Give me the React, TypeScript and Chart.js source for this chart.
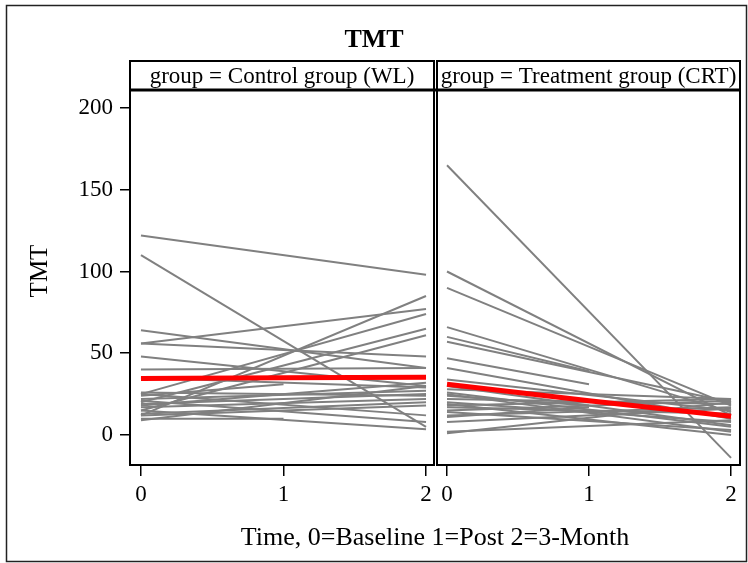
import React, { useEffect, useRef } from 'react';
import { Chart, registerables } from 'chart.js';

Chart.register(...registerables);

// ---------- data ----------
const timePoints = [0, 1, 2];
const chartTitle = 'TMT';
const yTitle = 'TMT';
const xTitle = 'Time, 0=Baseline 1=Post 2=3-Month';
const panelLabels = ['group = Control group (WL)', 'group = Treatment group (CRT)'];

const controlMean = [34.5, 35, 35.3];
const treatmentMean = [31, 21, 11.5];

// each row: TMT at time 0, 1, 2 (null = not observed)
const controlSubjects: (number | null)[][] = [
  [122, null, 98],
  [110, null, 5],
  [64, null, 41],
  [56, null, 77],
  [56, null, 48],
  [48, null, 30],
  [40, null, 41],
  [25, null, 74],
  [12, null, 85],
  [20, null, 65],
  [15, null, 61],
  [24, 31, null],
  [10, 10, null],
  [22, null, 27],
  [19, null, 25],
  [17, null, 22],
  [25, null, 12],
  [21, null, 8],
  [13, null, 20],
  [9, null, 30],
  [15, null, 3.5],
  [18, null, 32],
  [26, null, 24],
  [12, null, 18],
  [35, null, 29],
];

const treatmentSubjects: (number | null)[][] = [
  [165, null, -14],
  [100, null, 12],
  [90, null, 18],
  [66, null, 14],
  [60, 39, null],
  [57, null, 20],
  [47, 31, null],
  [41, null, 10],
  [34, null, 15],
  [28, null, 22],
  [26, null, 5],
  [24, 18, null],
  [22, null, 19],
  [20, null, 8],
  [18, null, 22],
  [17, null, 13],
  [15, null, 21],
  [14, null, 3],
  [12, null, 17],
  [11, 17, null],
  [8, null, 16],
  [2, null, 9],
  [1, null, 20],
  [25, null, 2],
  [19, null, 0],
  [30, null, 6],
];

const FONT = '"Liberation Serif", "Times New Roman", serif';

function toPoints(vals: (number | null)[]) {
  return timePoints.map((t, i) => ({ x: t, y: vals[i] }));
}

function makeDatasets() {
  const ds: any[] = [];
  ds.push({ data: toPoints(controlMean), xAxisID: 'x1', yAxisID: 'y', borderColor: 'rgb(255,0,0)', borderWidth: 5, order: 0 });
  ds.push({ data: toPoints(treatmentMean), xAxisID: 'x2', yAxisID: 'y', borderColor: 'rgb(255,0,0)', borderWidth: 5, order: 0 });
  controlSubjects.forEach((s) =>
    ds.push({ data: toPoints(s), xAxisID: 'x1', yAxisID: 'y', borderColor: 'rgb(128,128,128)', borderWidth: 2, order: 1 })
  );
  treatmentSubjects.forEach((s) =>
    ds.push({ data: toPoints(s), xAxisID: 'x2', yAxisID: 'y', borderColor: 'rgb(128,128,128)', borderWidth: 2, order: 1 })
  );
  return ds;
}

const decorPlugin = {
  id: 'decor',
  afterDraw(chart: any) {
    const ctx = chart.ctx as CanvasRenderingContext2D;
    const ca = chart.chartArea;
    const x1 = chart.scales.x1;
    const x2 = chart.scales.x2;
    ctx.save();
    // outer frame
    ctx.strokeStyle = '#222';
    ctx.lineWidth = 1.5;
    ctx.strokeRect(6.5, 5.5, 740, 556);

    // title
    ctx.fillStyle = '#000';
    ctx.textAlign = 'center';
    ctx.textBaseline = 'middle';
    ctx.font = `bold 26px ${FONT}`;
    ctx.fillText(chartTitle, 374, 40);

    // panels + strips
    const panels = [
      { l: x1.left, r: x1.right - 1 },
      { l: x2.left + 2, r: x2.right },
    ];
    const stripTop = 61;
    ctx.strokeStyle = '#000';
    ctx.lineWidth = 2;
    panels.forEach((p, i) => {
      ctx.strokeRect(p.l, stripTop, p.r - p.l, ca.top - stripTop);
      ctx.strokeRect(p.l, ca.top, p.r - p.l, ca.bottom - ca.top);
      ctx.font = `23px ${FONT}`;
      ctx.fillText(panelLabels[i], (p.l + p.r) / 2, (stripTop + ca.top) / 2 + 1);
    });
    // thicker strip bottom
    ctx.lineWidth = 3;
    ctx.beginPath();
    ctx.moveTo(panels[0].l, ca.top);
    ctx.lineTo(panels[1].r, ca.top);
    ctx.stroke();

    // x title
    ctx.font = `26px ${FONT}`;
    ctx.fillText(xTitle, (x1.left + x2.right) / 2, 538);

    // y title
    ctx.font = `25px ${FONT}`;
    ctx.translate(40, 271);
    ctx.rotate(-Math.PI / 2);
    ctx.fillText(yTitle, 0, 0);
    ctx.restore();
  },
};

function xScale(min: number) {
  return {
    type: 'linear',
    position: 'bottom',
    stack: 'panels',
    stackWeight: 1,
    min,
    max: 2.063,
    border: { display: false },
    grid: { drawOnChartArea: false, drawTicks: true, tickLength: 11, color: '#000', lineWidth: 1.5 },
    ticks: {
      stepSize: 1,
      includeBounds: false,
      autoSkip: false,
      maxRotation: 0,
      color: '#000',
      padding: 5,
      font: { family: FONT, size: 23 },
    },
    afterFit: (s: any) => {
      s.height = 98;
    },
  };
}

export default function App() {
  const ref = useRef<HTMLCanvasElement | null>(null);
  useEffect(() => {
    if (!ref.current) return;
    const chart = new Chart(ref.current, {
      type: 'line',
      data: { datasets: makeDatasets() },
      options: {
        animation: false,
        responsive: false,
        devicePixelRatio: 1,
        spanGaps: true,
        elements: { point: { radius: 0 }, line: { tension: 0 } },
        layout: { padding: { top: 90, right: 8, bottom: 0, left: 0 } },
        plugins: { legend: { display: false }, tooltip: { enabled: false }, title: { display: false } },
        scales: {
          x1: xScale(-0.077) as any,
          x2: xScale(-0.0845) as any,
          y: {
            type: 'linear',
            position: 'left',
            min: -18.35,
            max: 211,
            border: { display: false },
            grid: { drawOnChartArea: false, drawTicks: true, tickLength: 10, color: '#000', lineWidth: 1.5 },
            ticks: {
              stepSize: 50,
              includeBounds: false,
              color: '#000',
              padding: 7,
              font: { family: FONT, size: 23 },
            },
            afterFit: (s: any) => {
              s.width = 130;
            },
          } as any,
        },
      },
      plugins: [decorPlugin],
    });
    return () => chart.destroy();
  }, []);
  return (
    <div style={{ position: 'absolute', left: 0, top: 0, width: 748, height: 563, background: '#fff' }}>
      <canvas ref={ref} width={748} height={563} />
    </div>
  );
}
